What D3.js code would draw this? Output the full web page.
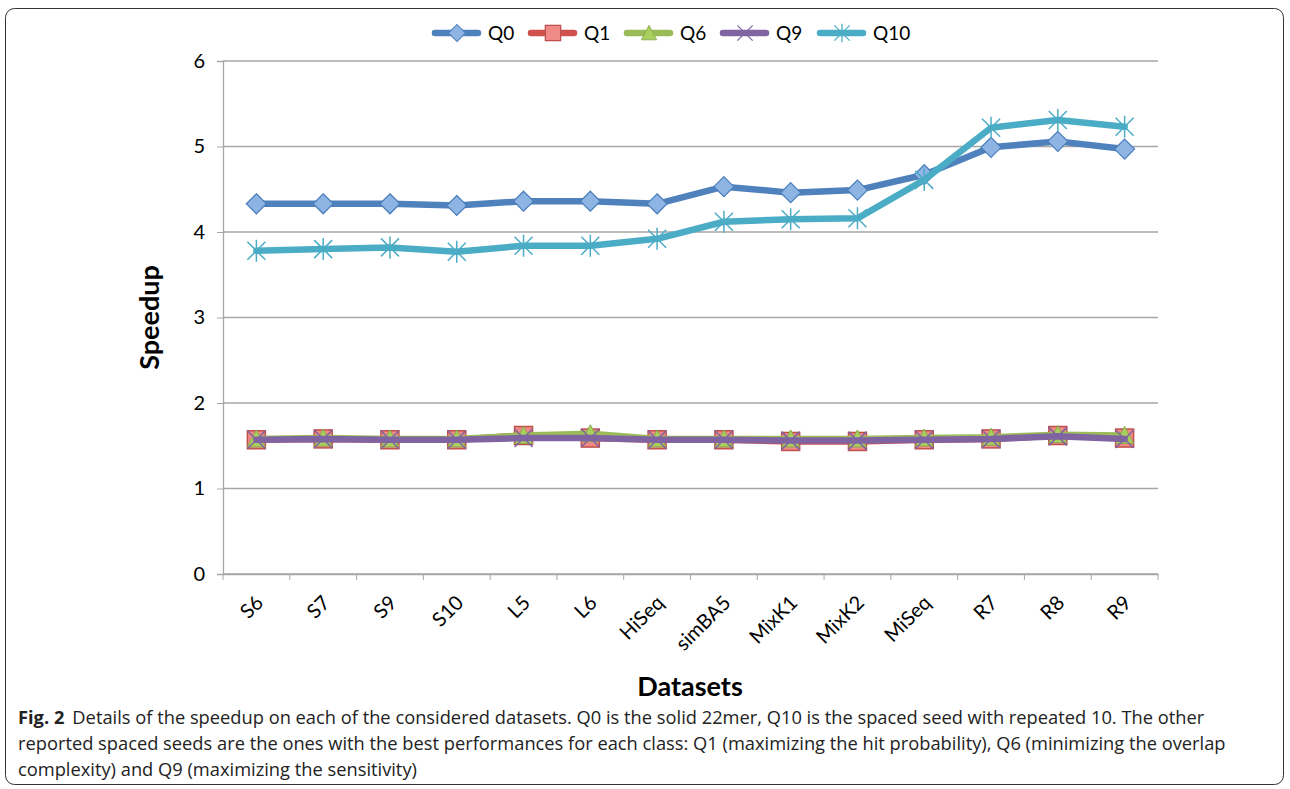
<!DOCTYPE html>
<html>
<head>
<meta charset="utf-8">
<script src="https://cdn.jsdelivr.net/npm/d3@7"></script>
<style>
  body { margin: 0; background: #fff; }
  svg text { font-family: Lato, "Open Sans", sans-serif; fill: #000; }
  .caption { font-family: "Open Sans", sans-serif; font-size: 18.3px; fill: #222; }
</style>
</head>
<body>
<div id="chart"></div>
<script>
// data
const datasets = ['S6', 'S7', 'S9', 'S10', 'L5', 'L6', 'HiSeq', 'simBA5', 'MixK1', 'MixK2', 'MiSeq', 'R7', 'R8', 'R9'];
const q0 = [4.33, 4.33, 4.33, 4.31, 4.36, 4.36, 4.33, 4.53, 4.46, 4.49, 4.67, 4.99, 5.06, 4.97];
const q1 = [1.57, 1.58, 1.57, 1.57, 1.62, 1.59, 1.57, 1.57, 1.55, 1.55, 1.57, 1.58, 1.62, 1.59];
const q6 = [1.58, 1.59, 1.58, 1.58, 1.62, 1.64, 1.58, 1.58, 1.58, 1.58, 1.59, 1.60, 1.63, 1.62];
const q9 = [1.57, 1.58, 1.57, 1.57, 1.59, 1.59, 1.57, 1.57, 1.56, 1.56, 1.57, 1.58, 1.61, 1.58];
const q10 = [3.78, 3.80, 3.82, 3.77, 3.84, 3.84, 3.92, 4.12, 4.15, 4.16, 4.61, 5.22, 5.31, 5.23];
const yTicks = [0, 1, 2, 3, 4, 5, 6];
const captionLines = [
  'Details of the speedup on each of the considered datasets. Q0 is the solid 22mer, Q10 is the spaced seed with repeated 10. The other',
  'reported spaced seeds are the ones with the best performances for each class: Q1 (maximizing the hit probability), Q6 (minimizing the overlap',
  'complexity) and Q9 (maximizing the sensitivity)'
];

const series = [
  { name: 'Q0', values: q0, line: '#4f81bd', fill: '#8db4e3', stroke: '#4a7ebb', shape: 'diamond' },
  { name: 'Q1', values: q1, line: '#d0504d', fill: '#f08a86', stroke: '#c0504d', shape: 'square' },
  { name: 'Q6', values: q6, line: '#9bbb59', fill: '#a9cf5f', stroke: '#8aa84c', shape: 'triangle' },
  { name: 'Q9', values: q9, line: '#8064a2', fill: 'none', stroke: '#8064a2', shape: 'x' },
  { name: 'Q10', values: q10, line: '#4bacc6', fill: 'none', stroke: '#4bacc6', shape: 'star' }
];

const W = 1290, H = 789;
const svg = d3.select('#chart').append('svg')
  .attr('width', W)
  .attr('height', H);

svg.append('rect')
  .attr('x', 5.5).attr('y', 8.5)
  .attr('width', 1278).attr('height', 776)
  .attr('rx', 9)
  .attr('fill', 'none')
  .attr('stroke', '#333')
  .attr('stroke-width', 1);

const plotLeft = 223, plotRight = 1158, plotTop = 61, plotBottom = 574;

const x = d3.scaleBand().domain(datasets).range([plotLeft, plotRight]);
const y = d3.scaleLinear().domain([0, 6]).range([plotBottom, plotTop]);

// gridlines
svg.append('g')
  .selectAll('line')
  .data(yTicks)
  .enter()
  .append('line')
  .attr('x1', plotLeft).attr('x2', plotRight)
  .attr('y1', d => y(d)).attr('y2', d => y(d))
  .attr('stroke', '#a6a6a6')
  .attr('stroke-width', 1.3);

// y axis
let yAxis = svg.append('g')
  .attr('transform', `translate(${plotLeft},0)`)
  .call(d3.axisLeft(y).tickValues(yTicks).tickFormat(d3.format('d')).tickSize(6).tickPadding(12));
yAxis.select('.domain').attr('stroke', '#a6a6a6').attr('stroke-width', 1.3);
yAxis.selectAll('.tick line').attr('stroke', '#a6a6a6');
yAxis.selectAll('text').style('font-size', '20px').style('font-family', 'Lato, "Open Sans", sans-serif');

// x axis
let xAxis = svg.append('g')
  .attr('transform', `translate(0,${plotBottom})`)
  .call(d3.axisBottom(x).tickSize(0).tickFormat(''));
xAxis.select('.domain').attr('stroke', '#a6a6a6').attr('stroke-width', 1.3);
// ticks at band edges
xAxis.selectAll('.edge')
  .data(datasets.concat(['end']))
  .enter()
  .append('line')
  .attr('x1', (d, i) => plotLeft + i * x.step())
  .attr('x2', (d, i) => plotLeft + i * x.step())
  .attr('y1', 0).attr('y2', 6)
  .attr('stroke', '#a6a6a6');

svg.append('g')
  .selectAll('text')
  .data(datasets)
  .enter()
  .append('text')
  .attr('transform', d => `translate(${x(d) + x.bandwidth() / 2 + 3},${plotBottom + 25}) rotate(-45)`)
  .attr('text-anchor', 'end')
  .attr('dy', '0.35em')
  .style('font-size', '20px')
  .text(d => d);

// axis titles
svg.append('text')
  .attr('transform', `translate(159,${(plotTop + plotBottom) / 2}) rotate(-90)`)
  .attr('text-anchor', 'middle')
  .style('font-size', '27px')
  .style('font-weight', 'bold')
  .text('Speedup');

svg.append('text')
  .attr('x', 690).attr('y', 696)
  .attr('text-anchor', 'middle')
  .style('font-size', '27px')
  .style('font-weight', 'bold')
  .text('Datasets');

function drawMarker(g, shape, s) {
  let size = 9;
  if (shape == 'diamond') {
    g.append('path').attr('d', `M0,${-size - 1}L${size + 1},0L0,${size + 1}L${-size - 1},0Z`)
      .attr('fill', s.fill).attr('stroke', s.stroke).attr('stroke-width', 1.2);
  } else if (shape == 'square') {
    g.append('rect').attr('x', -size).attr('y', -size).attr('width', 2 * size).attr('height', 2 * size)
      .attr('fill', s.fill).attr('stroke', s.stroke).attr('stroke-width', 1.5);
  } else if (shape == 'triangle') {
    g.append('path').attr('d', `M0,${-size}L${size},${size - 1}L${-size},${size - 1}Z`)
      .attr('fill', s.fill).attr('stroke', s.stroke).attr('stroke-width', 1);
  } else if (shape == 'x') {
    g.append('path').attr('d', `M${-size},${-size}L${size},${size}M${size},${-size}L${-size},${size}`)
      .attr('stroke', s.stroke).attr('stroke-width', 1.5);
  } else {
    g.append('path').attr('d', `M${-size},${-size}L${size},${size}M${size},${-size}L${-size},${size}M0,${-size - 2}L0,${size + 2}`)
      .attr('stroke', s.stroke).attr('stroke-width', 1.5);
  }
}

const line = d3.line()
  .x((d, i) => x(datasets[i]) + x.bandwidth() / 2)
  .y(d => y(d));

series.forEach(s => {
  svg.append('path')
    .datum(s.values)
    .attr('d', line)
    .attr('fill', 'none')
    .attr('stroke', s.line)
    .attr('stroke-width', 6.5)
    .attr('stroke-linejoin', 'round')
    .attr('stroke-linecap', 'round');

  s.values.forEach((v, i) => {
    let g = svg.append('g')
      .attr('transform', `translate(${x(datasets[i]) + x.bandwidth() / 2},${y(v)})`);
    drawMarker(g, s.shape, s);
  });
});

// legend
const legendX = [435, 531, 627, 723, 820];
series.forEach((s, i) => {
  let lg = svg.append('g').attr('transform', `translate(${legendX[i]},33)`);
  lg.append('line')
    .attr('x1', 0).attr('x2', 43)
    .attr('stroke', s.line)
    .attr('stroke-width', 6.5)
    .attr('stroke-linecap', 'round');
  let m = lg.append('g').attr('transform', 'translate(22,0) scale(0.85)');
  drawMarker(m, s.shape, s);
  lg.append('text')
    .attr('x', 53).attr('y', 0)
    .attr('dy', '0.35em')
    .style('font-size', '19px')
    .text(s.name);
});

// caption
let cap = svg.append('text').attr('class', 'caption').attr('x', 18).attr('y', 724);
cap.append('tspan').style('font-weight', 'bold').text('Fig. 2');
cap.append('tspan').attr('dx', 8).text(captionLines[0]);
svg.append('text').attr('class', 'caption').attr('x', 18).attr('y', 750).text(captionLines[1]);
svg.append('text').attr('class', 'caption').attr('x', 18).attr('y', 776).text(captionLines[2]);
</script>
</body>
</html>
